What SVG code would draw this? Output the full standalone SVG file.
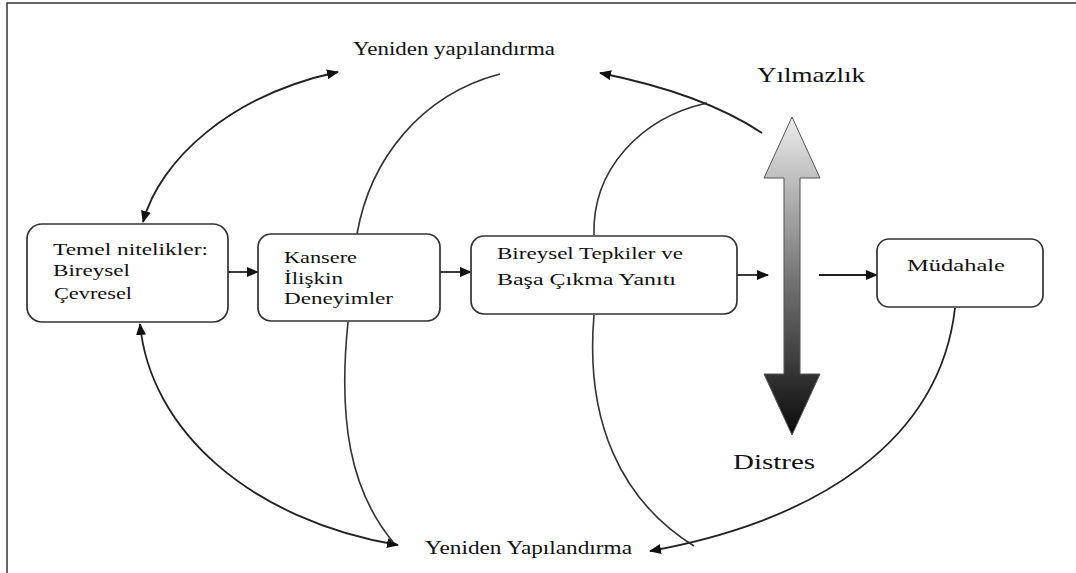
<svg xmlns="http://www.w3.org/2000/svg" width="1076" height="573" viewBox="0 0 1076 573">
<style>
.box{fill:#fff;stroke:#333;stroke-width:1.7}
.t{font-family:"Liberation Serif","DejaVu Serif","Times New Roman",serif;font-size:17px;fill:#111}
.lbl{font-family:"Liberation Serif","DejaVu Serif","Times New Roman",serif;font-size:18px;fill:#111}
.big{font-family:"Liberation Serif","DejaVu Serif","Times New Roman",serif;font-size:21px;fill:#111}
.c{fill:none;stroke:#333;stroke-width:1.6}
.a{fill:none;stroke:#222;stroke-width:1.8}
</style>
<defs>
<marker id="ah" viewBox="0 0 12 10" refX="11" refY="5" markerWidth="12" markerHeight="10" markerUnits="userSpaceOnUse" orient="auto-start-reverse">
<path d="M0,0 L12,5 L0,10 Z" fill="#111"/>
</marker>
<linearGradient id="g" x1="0" y1="0" x2="0" y2="1">
<stop offset="0" stop-color="#ececec"/>
<stop offset="0.5" stop-color="#777"/>
<stop offset="1" stop-color="#0a0a0a"/>
</linearGradient>
</defs>
<path d="M7,573 V3 H1076" fill="none" stroke="#333" stroke-width="1.5"/>
<g id="connectors">
<path class="a" d="M143,222 C160,160 230,95 338,72" marker-start="url(#ah)" marker-end="url(#ah)"/>
<path class="c" d="M357,234 C370,160 420,95 500,74"/>
<path class="c" d="M594,235 C592,170 640,118 707,103"/>
<path class="a" d="M762,133 C720,105 660,85 600,73" marker-end="url(#ah)"/>
<path class="a" d="M140,324 C150,430 250,520 398,545" marker-start="url(#ah)" marker-end="url(#ah)"/>
<path class="c" d="M348,322 C338,420 350,490 393,542"/>
<path class="c" d="M594,315 C585,420 620,500 694,546"/>
<path class="a" d="M955,308 C940,440 820,520 650,551" marker-end="url(#ah)"/>
<path class="a" d="M228,272 H258" marker-end="url(#ah)"/>
<path class="a" d="M440,272 H471" marker-end="url(#ah)"/>
<path class="a" d="M737,275 H768" marker-end="url(#ah)"/>
<path class="a" d="M819,275 H877" marker-end="url(#ah)"/>
</g>
<g id="scale-arrow">
<polygon points="792,117 820,178 800,178 800,374 820,374 792,435 764,374 784,374 784,178 764,178" fill="url(#g)" stroke="#555" stroke-width="1"/>
</g>
<g id="node-temel">
<rect class="box" x="27" y="224" width="201" height="98" rx="15"/>
<text class="t" x="53" y="255" textLength="155" lengthAdjust="spacingAndGlyphs">Temel nitelikler:</text>
<text class="t" x="53" y="276" textLength="77" lengthAdjust="spacingAndGlyphs">Bireysel</text>
<text class="t" x="54" y="299" textLength="78" lengthAdjust="spacingAndGlyphs">Çevresel</text>
</g>
<g id="node-kansere">
<rect class="box" x="258" y="234" width="182" height="87" rx="13"/>
<text class="t" x="284" y="263" textLength="73" lengthAdjust="spacingAndGlyphs">Kansere</text>
<text class="t" x="284" y="284" textLength="59" lengthAdjust="spacingAndGlyphs">İlişkin</text>
<text class="t" x="284" y="304" textLength="109" lengthAdjust="spacingAndGlyphs">Deneyimler</text>
</g>
<g id="node-bireysel">
<rect class="box" x="471" y="236" width="266" height="78" rx="13"/>
<text class="t" x="497" y="259" textLength="186" lengthAdjust="spacingAndGlyphs">Bireysel Tepkiler ve</text>
<text class="t" x="497" y="285" textLength="179" lengthAdjust="spacingAndGlyphs">Başa Çıkma Yanıtı</text>
</g>
<g id="node-mudahale">
<rect class="box" x="877" y="239" width="166" height="68" rx="12"/>
<text class="t" x="907" y="271" textLength="98" lengthAdjust="spacingAndGlyphs">Müdahale</text>
</g>
<g id="labels">
<text class="lbl" x="353" y="55" textLength="202" lengthAdjust="spacingAndGlyphs">Yeniden yapılandırma</text>
<text class="big" x="757" y="82" textLength="108" lengthAdjust="spacingAndGlyphs">Yılmazlık</text>
<text class="big" x="733" y="469" textLength="82" lengthAdjust="spacingAndGlyphs">Distres</text>
<text class="lbl" x="425" y="554" textLength="207" lengthAdjust="spacingAndGlyphs">Yeniden Yapılandırma</text>
</g>
</svg>
